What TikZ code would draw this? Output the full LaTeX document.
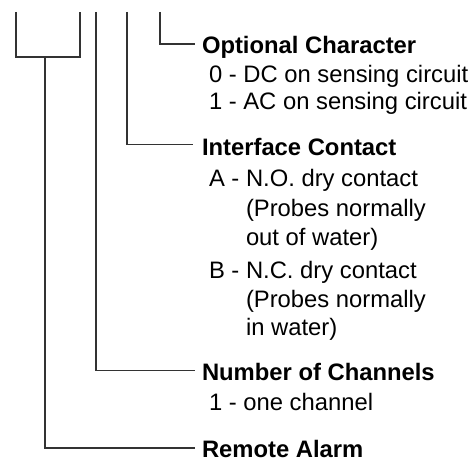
\documentclass[tikz,border=0pt]{standalone}
\usepackage{fontspec}
\setmainfont{Liberation Sans}
\usetikzlibrary{positioning}

\begin{document}
\begin{tikzpicture}[x=1pt, y=1pt,
  lead/.style={draw=black!80, line width=1.8pt},
  head/.style={inner sep=0pt, outer sep=0pt, anchor=base west, text height=19pt, text depth=0pt, font=\fontsize{23.8}{28.5}\selectfont\bfseries},
  item/.style={inner sep=0pt, outer sep=0pt, anchor=base west, font=\fontsize{23.8}{28.5}\selectfont}]

      \useasboundingbox (0,0) rectangle (473,461);

      % Obere Enden
      \coordinate (topl) at (16,449);
      \coordinate (topr) at (80,449);
      \coordinate (stem) at (45,404);
      \coordinate (topb) at (96,449);
      \coordinate (topc) at (127,449);
      \coordinate (topd) at (160,449);

      % Optionales Zeichen
      \node[head] (optc) at (202,407.5) {Optional Character};
      \node[item] (dc) at (209,378) {0 - DC on sensing circuit};
      \node[item] (ac) at (209,351) {1 - AC on sensing circuit};

      % Schnittstelle
      \node[head] (iface) at (202,305) {Interface Contact};
      \node[item] (no) at (209,274) {A - N.O. dry contact};
      \node[item] (no2) at (246,245) {(Probes normally};
      \node[item] (no3) at (246,216) {out of water)};
      \node[item] (nc) at (209,183) {B - N.C. dry contact};
      \node[item] (nc2) at (246,154) {(Probes normally};
      \node[item] (nc3) at (246,126) {in water)};

      % Kanaele
      \node[head] (nchan) at (202,81) {Number of Channels};
      \node[item] (one) at (209,51) {1 - one channel};

      % Alarm
      \node[head] (alarm) at (202,3.5) {Remote Alarm};

      % Klammer
      \draw[lead] (topl) |- (stem) -| (topr);

      % Linien
      \draw[lead] (stem) |- ([xshift=-7pt]alarm.west);
      \draw[lead] (topb) |- ([xshift=-7pt]nchan.west);
      \draw[lead] (topc) |- ([xshift=-9pt, yshift=2pt]iface.west);
      \draw[lead] (topd) |- ([xshift=-7pt]optc.west);

\end{tikzpicture}
\end{document}
